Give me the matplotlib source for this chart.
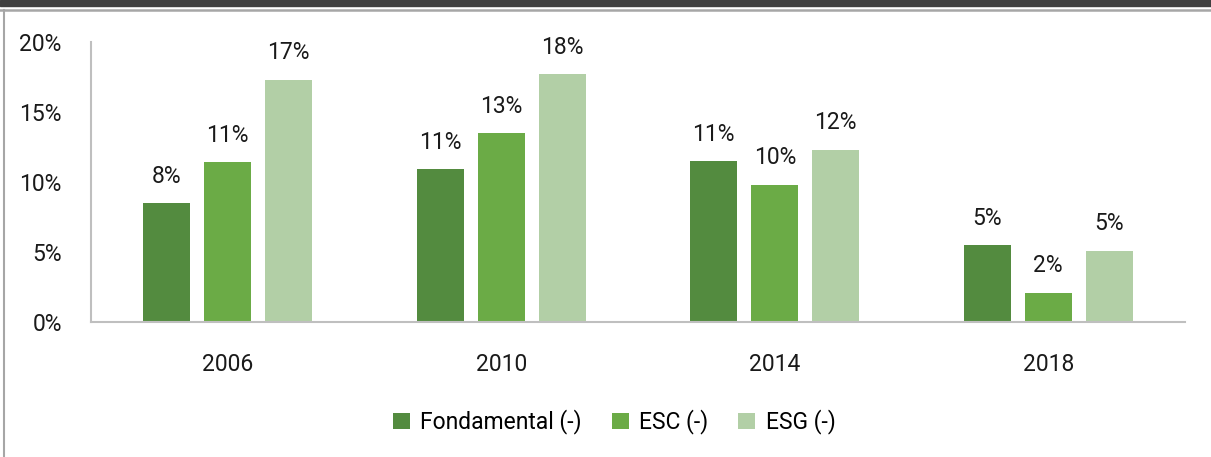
import matplotlib
matplotlib.use("Agg")
import matplotlib.pyplot as plt
from matplotlib.patches import Rectangle
from matplotlib.lines import Line2D
import numpy as np

# données
years = ["2006", "2010", "2014", "2018"]
series_names = ["Fondamental (-)", "ESC (-)", "ESG (-)"]
fondamental = [8.5, 10.9, 11.5, 5.5]
esc = [11.4, 13.5, 9.8, 2.1]
esg = [17.3, 17.7, 12.3, 5.1]
labels_fond = ["8%", "11%", "11%", "5%"]
labels_esc = ["11%", "13%", "10%", "2%"]
labels_esg = ["17%", "18%", "12%", "5%"]
yticks = [0, 5, 10, 15, 20]

colors = ["#538B3F", "#6BAB46", "#B2CFA6"]

plt.rcParams['font.family'] = ['Roboto', 'DejaVu Sans']
fs = 16.5
tc = "#1a1a1a"

fig = plt.figure(figsize=(12.11, 4.57), dpi=100)
ax = fig.add_axes([91/1211, 1 - 322/457, (1185-91)/1211, 280/457])

x = np.arange(len(years))
w = 0.172
step = 0.223
all_vals = [fondamental, esc, esg]
all_labels = [labels_fond, labels_esc, labels_esg]
for i, (vals, labs) in enumerate(zip(all_vals, all_labels)):
    pos = x + (i - 1) * step
    bars = ax.bar(pos, vals, width=w, color=colors[i], label=series_names[i], zorder=2)
    for b, lab in zip(bars, labs):
        ax.text(b.get_x() + b.get_width()/2, b.get_height() + 1.1, lab,
                ha="center", va="bottom", fontsize=fs, color=tc)

ax.set_xlim(-0.5, 3.5)
ax.set_ylim(0, 20)
ax.set_yticks(yticks)
ax.set_yticklabels([f"{t}%" for t in yticks], fontsize=fs, color=tc)
ax.set_xticks(x)
ax.set_xticklabels(years, fontsize=fs, color=tc)
ax.tick_params(axis="both", length=0)
ax.tick_params(axis="y", pad=21)
ax.tick_params(axis="x", pad=22)
for s in ["top", "right"]:
    ax.spines[s].set_visible(False)
for s in ["left", "bottom"]:
    ax.spines[s].set_color("#BFBFBF")
    ax.spines[s].set_linewidth(1.5)

ax.legend(loc="center", bbox_to_anchor=(614/1211, 1 - 422/457), bbox_transform=fig.transFigure,
          ncol=3, frameon=False, fontsize=fs, handlelength=0.75, handleheight=0.75,
          handletextpad=0.45, columnspacing=1.3)

# cadre
fig.add_artist(Rectangle((0, 1 - 5.5/457), 1, 5.5/457, transform=fig.transFigure,
                         color="#404040", zorder=5))
fig.add_artist(Line2D([0, 1], [1 - 9.5/457, 1 - 9.5/457], transform=fig.transFigure,
                      color="#A6A6A6", linewidth=1.8))
fig.add_artist(Line2D([4/1211, 4/1211], [0, 1 - 9.5/457], transform=fig.transFigure,
                      color="#A6A6A6", linewidth=1.5))

fig.savefig("out.png", dpi=100)
